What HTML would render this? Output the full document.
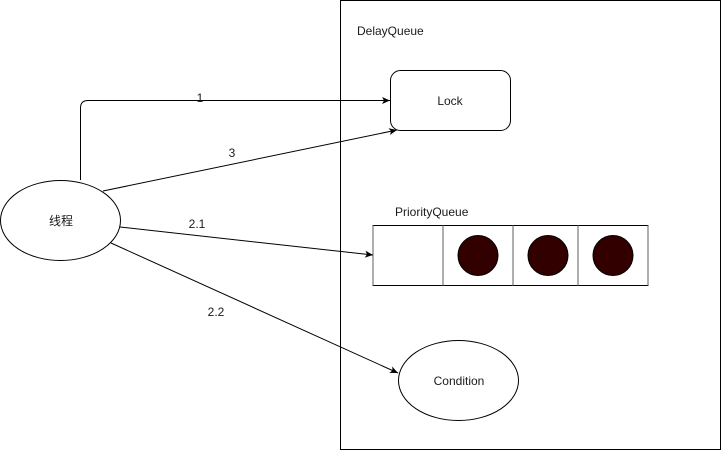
<!DOCTYPE html>
<html><head><meta charset="utf-8"><style>
html,body{margin:0;padding:0;background:#fff;width:721px;height:451px;overflow:hidden}
text{font-family:"Liberation Sans","Noto Sans CJK SC",sans-serif;font-size:12px;fill:#1a1a1a}
</style></head><body>
<svg width="721" height="451" viewBox="0 0 721 451" xmlns="http://www.w3.org/2000/svg">
<defs><marker id="a" markerWidth="10" markerHeight="10" refX="9" refY="5" orient="auto" markerUnits="userSpaceOnUse"><path d="M1,1.5 L9,5 L1,8.5 L3,5 Z" fill="#000"/></marker></defs>
<rect x="340.5" y="0.5" width="380" height="449" fill="#fff" stroke="#000"/>
<text x="357" y="35">DelayQueue</text>
<rect x="390.5" y="70.5" width="120" height="60" rx="10" fill="#fff" stroke="#000"/>
<text x="450" y="105" text-anchor="middle">Lock</text>
<text x="395" y="216">PriorityQueue</text>
<rect x="373" y="225.5" width="275" height="60" fill="#fff" stroke="#000"/>
<g stroke="#777" stroke-width="1.2"><line x1="373" y1="225.5" x2="373" y2="285.5"/><line x1="443" y1="225.5" x2="443" y2="285.5"/><line x1="513" y1="225.5" x2="513" y2="285.5"/><line x1="578" y1="225.5" x2="578" y2="285.5"/><line x1="648" y1="225.5" x2="648" y2="285.5"/></g>
<g fill="#330000" stroke="#000"><circle cx="478" cy="255.5" r="20"/><circle cx="548" cy="255.5" r="20"/><circle cx="613" cy="255.5" r="20"/></g>
<ellipse cx="458.5" cy="380.5" rx="60" ry="40" fill="#fff" stroke="#000"/>
<text x="459" y="385" text-anchor="middle">Condition</text>
<ellipse cx="60.5" cy="220.5" rx="60" ry="40" fill="#fff" stroke="#000"/>
<text x="61" y="225" text-anchor="middle">线程</text>
<g fill="none" stroke="#000" stroke-width="1">
<path d="M80.5,180 V108 Q80.5,100.5 88,100.5 H390" marker-end="url(#a)"/>
<path d="M103,191 L397,130" marker-end="url(#a)"/>
<path d="M120,227 L373,255" marker-end="url(#a)"/>
<path d="M111,243 L398,373" marker-end="url(#a)"/>
</g>
<text x="200" y="102" text-anchor="middle">1</text>
<text x="232" y="157" text-anchor="middle">3</text>
<text x="197" y="228" text-anchor="middle">2.1</text>
<text x="216" y="316" text-anchor="middle">2.2</text>
</svg>
</body></html>
